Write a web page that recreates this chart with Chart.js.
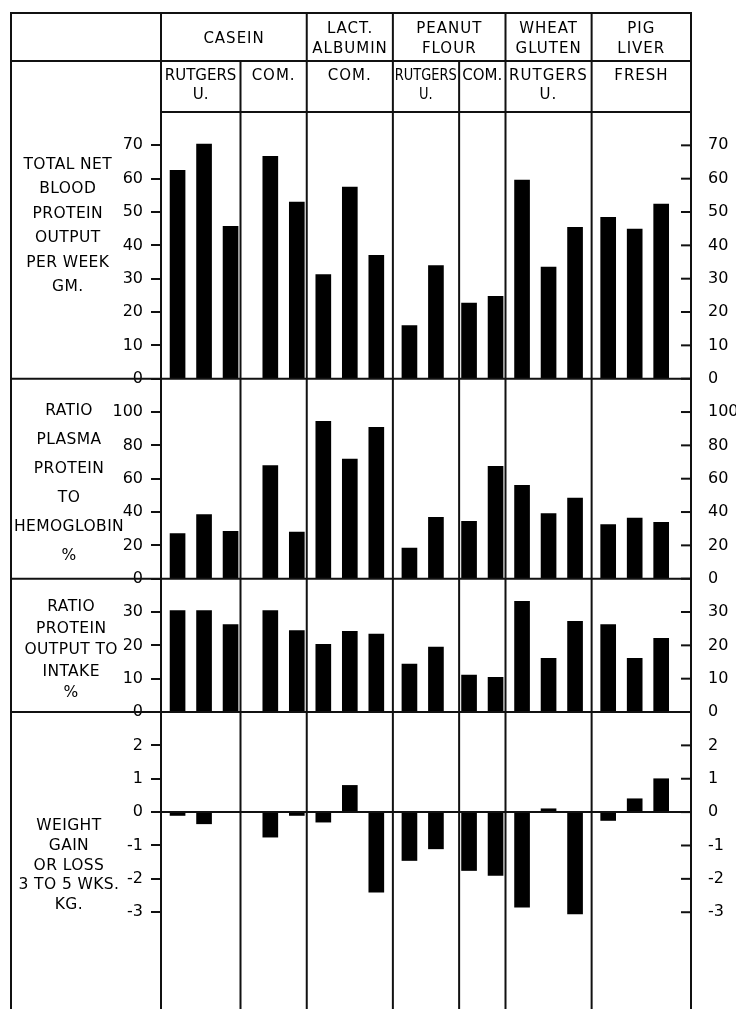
<!DOCTYPE html>
<html>
<head>
<meta charset="utf-8">
<title>Blood protein output</title>
<script src="https://cdn.jsdelivr.net/npm/chart.js@4.4.1/dist/chart.umd.min.js"></script>
<style>
  html, body { margin: 0; padding: 0; background: #fff; }
  #page { position: relative; width: 736px; height: 1009px; overflow: hidden;
          font-family: "DejaVu Sans", sans-serif; color: #000; }
  #grafico { position: absolute; left: 0; top: 0; }
  .txt { position: absolute; white-space: pre; text-align: center; transform-origin: 50% 50%; }
</style>
</head>
<body>
<div id="page"><canvas id="grafico" width="736" height="1009"></canvas></div>
<script>
// 1. Data
const proteins = ['CASEIN', 'LACT.\nALBUMIN', 'PEANUT\nFLOUR', 'WHEAT\nGLUTEN', 'PIG\nLIVER'];
const sources = ['RUTGERS\nU.', 'COM.', 'COM.', 'RUTGERS\nU.', 'COM.', 'RUTGERS\nU.', 'FRESH'];
const sourceProtein = [0, 0, 1, 2, 2, 3, 4];
const barsPerSource = [3, 2, 3, 2, 2, 3, 3];

const bloodProteinOutput = [62.5, 70.4, 45.7, 66.7, 53, 31.2, 57.5, 37, 15.9, 33.9, 22.7, 24.7, 59.6, 33.5, 45.4, 48.4, 44.9, 52.4];
const plasmaToHemoglobin = [27, 38.4, 28.4, 67.8, 28, 94.4, 71.8, 90.8, 18.4, 36.8, 34.4, 67.4, 56, 39, 48.4, 32.4, 36.4, 33.8];
const outputToIntake = [30.4, 30.4, 26.2, 30.4, 24.4, 20.3, 24.2, 23.4, 14.4, 19.5, 11.1, 10.4, 33.2, 16.1, 27.2, 26.2, 16.1, 22.1];
const weightChange = [-0.1, -0.35, 0, -0.75, -0.1, -0.3, 0.8, -2.4, -1.45, -1.1, -1.75, -1.9, -2.85, 0.1, -3.05, -0.25, 0.4, 1.0];

const ticksOutput = [0, 10, 20, 30, 40, 50, 60, 70];
const ticksPlasma = [0, 20, 40, 60, 80, 100];
const ticksIntake = [0, 10, 20, 30];
const ticksWeight = [-3, -2, -1, 0, 1, 2];

const titleOutput = ['TOTAL NET', 'BLOOD', 'PROTEIN', 'OUTPUT', 'PER WEEK', 'GM.'];
const titlePlasma = ['RATIO', 'PLASMA', 'PROTEIN', 'TO', 'HEMOGLOBIN', '%'];
const titleIntake = ['RATIO', 'PROTEIN', 'OUTPUT TO', 'INTAKE', '%'];
const titleWeight = ['WEIGHT', 'GAIN', 'OR LOSS', '3 TO 5 WKS.', 'KG.'];

const panelValues = [bloodProteinOutput, plasmaToHemoglobin, outputToIntake, weightChange];
const panelTicks = [ticksOutput, ticksPlasma, ticksIntake, ticksWeight];
const panelTitles = [titleOutput, titlePlasma, titleIntake, titleWeight];
const panelRange = [[0, 80], [0, 120], [0, 40], [-5.9, 3]];

// 2. Layout (pixels and slots)
const HEAD_TOP = 13, HEAD_MID = 61, PLOT_TOP = 112, FRAME_LEFT = 11;
const AXIS_LEFT_W = 161, AXIS_RIGHT_W = 45;
const PANEL_H = [266.7, 200, 133.3, 297];
const TITLE_POS = [{x: 68, y: 164, lh: 24.5}, {x: 69, y: 410, lh: 29}, {x: 71, y: 607, lh: 21.5}, {x: 69, y: 826, lh: 19.8}];
// every sub-column is cut into narrow category slots; a bar sits every PITCH slots
const SLOTS = [
  {width: 12, lead: 2}, {width: 10, lead: 4}, {width: 13, lead: 2},
  {width: 10, lead: 2}, {width: 7, lead: 1}, {width: 13, lead: 2}, {width: 15, lead: 2}
];
const PITCH = 4;

const labels = [];
const slotBar = [];
let nBar = 0;
SLOTS.forEach((col, c) => {
  for (let s = 0; s < col.width; s++) {
    const k = s - col.lead;
    const isBar = k >= 0 && k % PITCH === 0 && k / PITCH < barsPerSource[c];
    labels.push(isBar ? sources[c].replace('\n', ' ') + ' #' + (k / PITCH + 1) : '');
    slotBar.push(isBar ? nBar++ : -1);
  }
});
const spread = vals => slotBar.map(i => (i < 0 ? null : vals[i]));

// 3. Scales: four stacked panels, ticks on both sides
const tickFont = {family: 'DejaVu Sans', size: 16};
const scales = {x: {display: false}};
panelValues.forEach((v, i) => {
  const base = {
    type: 'linear',
    min: panelRange[i][0],
    max: panelRange[i][1],
    stackWeight: PANEL_H[i],
    afterBuildTicks: s => { s.ticks = panelTicks[i].map(t => ({value: t})); },
    border: {display: false}
  };
  scales['y' + i] = Object.assign({}, base, {
    position: 'left', stack: 'panels', weight: 4 - i,
    grid: {drawOnChartArea: false, drawTicks: true, tickLength: 10, color: '#111', lineWidth: 2},
    ticks: {font: tickFont, color: '#000', autoSkip: false, padding: 8},
    afterFit: s => { s.width = AXIS_LEFT_W; s.paddingTop = 0; s.paddingBottom = 0; }
  });
  scales['r' + i] = Object.assign({}, base, {
    position: 'right', stack: 'panels', weight: i + 1,
    grid: {drawOnChartArea: false, drawTicks: false},
    ticks: {font: tickFont, color: '#000', autoSkip: false, padding: 17},
    afterFit: s => { s.width = AXIS_RIGHT_W; s.paddingTop = 0; s.paddingBottom = 0; }
  });
});

// 4. Frame, column rules, zero line and inner right ticks
const slotEdge = (chart, k) => {
  const a = chart.chartArea;
  return chart.scales.x.getPixelForValue(k) - (a.right - a.left) / labels.length / 2;
};
const framePlugin = {
  id: 'frame',
  afterDatasetsDraw(chart) {
    const {ctx, chartArea: a, scales: sc} = chart;
    const bottom = chart.height;
    const line = (x1, y1, x2, y2) => { ctx.beginPath(); ctx.moveTo(x1, y1); ctx.lineTo(x2, y2); ctx.stroke(); };
    ctx.save();
    ctx.strokeStyle = '#111';
    ctx.lineWidth = 2;
    line(FRAME_LEFT - 1, HEAD_TOP, a.right + 1, HEAD_TOP);
    line(FRAME_LEFT, HEAD_MID, a.right, HEAD_MID);
    line(a.left, a.top, a.right, a.top);
    line(FRAME_LEFT, HEAD_TOP, FRAME_LEFT, bottom);
    line(a.left, HEAD_TOP, a.left, bottom);
    line(a.right, HEAD_TOP, a.right, bottom);
    for (let i = 0; i < 3; i++) {
      const y = sc['y' + i].bottom;
      line(FRAME_LEFT, y, a.right, y);
    }
    let k = 0;
    SLOTS.forEach((col, c) => {
      if (c > 0) {
        const x = slotEdge(chart, k);
        line(x, sourceProtein[c] === sourceProtein[c - 1] ? HEAD_MID : HEAD_TOP, x, bottom);
      }
      k += col.width;
    });
    const y0 = sc.y3.getPixelForValue(0);
    line(a.left, y0, a.right, y0);
    for (let i = 0; i < 4; i++) {
      const r = sc['r' + i];
      r.ticks.forEach(t => {
        const y = r.getPixelForValue(t.value);
        line(a.right - 10, y, a.right, y);
      });
    }
    ctx.restore();
  }
};

const chart = new Chart(document.getElementById('grafico').getContext('2d'), {
  type: 'bar',
  data: {
    labels: labels,
    datasets: panelValues.map((vals, i) => ({
      data: spread(vals),
      yAxisID: 'y' + i,
      backgroundColor: '#000',
      barThickness: 15,
      grouped: false
    }))
  },
  options: {
    responsive: false,
    animation: false,
    devicePixelRatio: 1,
    layout: {padding: {top: PLOT_TOP, bottom: 0, left: 0, right: 0}},
    plugins: {legend: {display: false}, tooltip: {enabled: false}},
    scales: scales
  },
  plugins: [framePlugin]
});

// 5. Header table and panel titles as real text
const page = document.getElementById('page');
function addText(str, cx, top, size, lh, spacing, maxW) {
  const el = document.createElement('div');
  el.className = 'txt';
  el.textContent = str;
  el.style.fontSize = size + 'px';
  el.style.lineHeight = lh + 'px';
  el.style.letterSpacing = spacing + 'px';
  page.appendChild(el);
  if (maxW && el.offsetWidth > maxW) {
    // squeeze sideways like the condensed hand lettering
    el.style.letterSpacing = '0px';
    if (el.offsetWidth > maxW) el.style.transform = 'scaleX(' + (maxW / el.offsetWidth).toFixed(3) + ')';
  }
  el.style.left = (cx - el.offsetWidth / 2) + 'px';
  el.style.top = top + 'px';
}

const colEdges = [0];
SLOTS.forEach(col => colEdges.push(colEdges[colEdges.length - 1] + col.width));
const edgePx = colEdges.map(k => slotEdge(chart, k));

proteins.forEach((name, p) => {
  const cols = sourceProtein.map((sp, c) => (sp === p ? c : -1)).filter(c => c >= 0);
  const x1 = edgePx[cols[0]], x2 = edgePx[cols[cols.length - 1] + 1];
  const n = name.split('\n').length;
  addText(name, (x1 + x2) / 2, (HEAD_TOP + HEAD_MID) / 2 + 1 - n * 10, 15, 20, 1, x2 - x1 - 4);
});
sources.forEach((name, c) => {
  const x1 = edgePx[c], x2 = edgePx[c + 1];
  addText(name, (x1 + x2) / 2, HEAD_MID + 5, 15, 19, 1, x2 - x1 - 4);
});
panelTitles.forEach((lines, i) => {
  const pos = TITLE_POS[i];
  addText(lines.join('\n'), pos.x, pos.y - pos.lh / 2, 15.5, pos.lh, 0.4, 0);
});
</script>
</body>
</html>
